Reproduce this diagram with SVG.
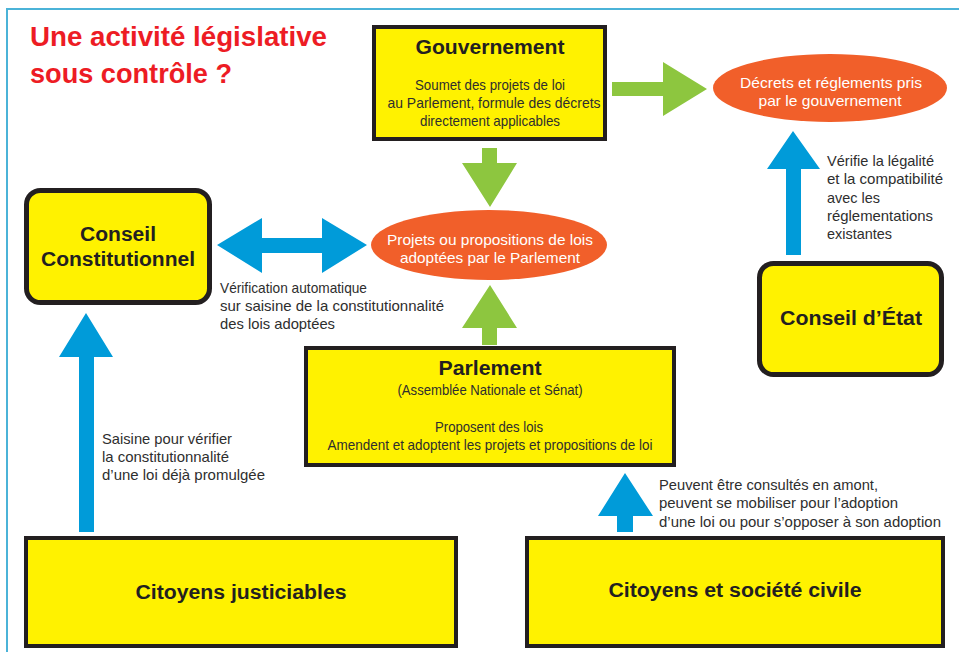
<svg xmlns="http://www.w3.org/2000/svg" width="959" height="652" viewBox="0 0 959 652">
  <style>
    .box { fill: #fff200; stroke: #231f20; stroke-width: 4; }
    .rbox { fill: #fff200; stroke: #231f20; stroke-width: 5; }
    .oval { fill: #f15f2a; }
    .green { fill: #8dc63f; }
    .blue { fill: #009bd9; }
    .title { font-family: "Liberation Sans", Arial, sans-serif; font-weight: bold; font-size: 28px; fill: #ed1c24; }
    .head { font-family: "Liberation Sans", Arial, sans-serif; font-weight: bold; font-size: 20px; fill: #231f20; text-anchor: middle; }
    .txt { font-family: "Liberation Sans", Arial, sans-serif; font-size: 15px; fill: #2e2e2e; }
    .mid { text-anchor: middle; }
    .wt { fill: #ffffff; }
  </style>

  <!-- outer frame -->
  <rect x="7" y="9" width="1000" height="700" fill="#ffffff" stroke="#4bb3d8" stroke-width="2"/>

  <!-- title -->
  <g id="title">
    <text class="title" x="30" y="46" textLength="297" lengthAdjust="spacingAndGlyphs">Une activité législative</text>
    <text class="title" x="30" y="83" textLength="202" lengthAdjust="spacingAndGlyphs">sous contrôle ?</text>
  </g>

  <!-- connectors -->
  <g id="connectors">
    <polygon class="green" points="612,82 663,82 663,62 707,89 663,116 663,96 612,96"/>
    <polygon class="green" points="482,148 497,148 497,163 517,163 490,207 462,163 482,163"/>
    <polygon class="green" points="490,285 517,328 497,328 497,345 482,345 482,328 462,328"/>
    <polygon class="blue" points="217,245 262,218 262,238 322,238 322,218 367,245 322,273 322,253 262,253 262,273"/>
    <polygon class="blue" points="86,313 113,357 94,357 94,532 79,532 79,357 59,357"/>
    <polygon class="blue" points="625,473 653,516 633,516 633,532 617,532 617,516 598,516"/>
    <polygon class="blue" points="793,131 820,169 801,169 801,255 786,255 786,169 767,169"/>

    <g class="txt">
      <text x="220" y="293" textLength="147" lengthAdjust="spacingAndGlyphs">Vérification automatique</text>
      <text x="220" y="311" textLength="224" lengthAdjust="spacingAndGlyphs">sur saisine de la constitutionnalité</text>
      <text x="220" y="329" textLength="115" lengthAdjust="spacingAndGlyphs">des lois adoptées</text>

      <text x="102" y="444" textLength="130" lengthAdjust="spacingAndGlyphs">Saisine pour vérifier</text>
      <text x="102" y="462" textLength="127" lengthAdjust="spacingAndGlyphs">la constitutionnalité</text>
      <text x="102" y="480" textLength="163" lengthAdjust="spacingAndGlyphs">d’une loi déjà promulgée</text>

      <text x="659" y="490" textLength="219" lengthAdjust="spacingAndGlyphs">Peuvent être consultés en amont,</text>
      <text x="659" y="508" textLength="239" lengthAdjust="spacingAndGlyphs">peuvent se mobiliser pour l’adoption</text>
      <text x="659" y="527" textLength="282" lengthAdjust="spacingAndGlyphs">d’une loi ou pour s’opposer à son adoption</text>

      <text x="827" y="166" textLength="107" lengthAdjust="spacingAndGlyphs">Vérifie la légalité</text>
      <text x="827" y="184" textLength="116" lengthAdjust="spacingAndGlyphs">et la compatibilité</text>
      <text x="827" y="203" textLength="53" lengthAdjust="spacingAndGlyphs">avec les</text>
      <text x="827" y="221" textLength="106" lengthAdjust="spacingAndGlyphs">réglementations</text>
      <text x="827" y="239" textLength="65" lengthAdjust="spacingAndGlyphs">existantes</text>
    </g>
  </g>

  <!-- Gouvernement -->
  <g id="gouvernement">
    <rect class="box" x="374" y="27" width="231" height="112"/>
    <text class="head" x="490" y="54" textLength="149" lengthAdjust="spacingAndGlyphs">Gouvernement</text>
    <text class="txt mid" x="490" y="90" textLength="150" lengthAdjust="spacingAndGlyphs">Soumet des projets de loi</text>
    <text class="txt mid" x="494" y="108" textLength="213" lengthAdjust="spacingAndGlyphs">au Parlement, formule des décrets</text>
    <text class="txt mid" x="490" y="126" textLength="140" lengthAdjust="spacingAndGlyphs">directement applicables</text>
  </g>

  <!-- Décrets et réglements -->
  <g id="decrets">
    <ellipse class="oval" cx="830" cy="88" rx="117" ry="34"/>
    <text class="txt mid wt" x="831" y="88" textLength="182" lengthAdjust="spacingAndGlyphs">Décrets et réglements pris</text>
    <text class="txt mid wt" x="830" y="106" textLength="143" lengthAdjust="spacingAndGlyphs">par le gouvernement</text>
  </g>

  <!-- Projets ou propositions -->
  <g id="projets">
    <ellipse class="oval" cx="489" cy="245" rx="118" ry="35"/>
    <text class="txt mid wt" x="490" y="245" textLength="206" lengthAdjust="spacingAndGlyphs">Projets ou propositions de lois</text>
    <text class="txt mid wt" x="490" y="263" textLength="180" lengthAdjust="spacingAndGlyphs">adoptées par le Parlement</text>
  </g>

  <!-- Conseil Constitutionnel -->
  <g id="conseil-constitutionnel">
    <rect class="rbox" x="26.5" y="190.5" width="183" height="112" rx="14"/>
    <text class="head" x="118" y="241" textLength="76" lengthAdjust="spacingAndGlyphs">Conseil</text>
    <text class="head" x="118" y="266" textLength="154" lengthAdjust="spacingAndGlyphs">Constitutionnel</text>
  </g>

  <!-- Conseil d'État -->
  <g id="conseil-etat">
    <rect class="rbox" x="759.5" y="263.5" width="182" height="111" rx="14"/>
    <text class="head" x="851" y="325" textLength="142" lengthAdjust="spacingAndGlyphs">Conseil d’État</text>
  </g>

  <!-- Parlement -->
  <g id="parlement">
    <rect class="box" x="306" y="348" width="368" height="117"/>
    <text class="head" x="490" y="375" textLength="103" lengthAdjust="spacingAndGlyphs">Parlement</text>
    <text class="txt mid" x="490" y="395" textLength="185" lengthAdjust="spacingAndGlyphs">(Assemblée Nationale et Sénat)</text>
    <text class="txt mid" x="489" y="432" textLength="108" lengthAdjust="spacingAndGlyphs">Proposent des lois</text>
    <text class="txt mid" x="490" y="450" textLength="325" lengthAdjust="spacingAndGlyphs">Amendent et adoptent les projets et propositions de loi</text>
  </g>

  <!-- Citoyens justiciables -->
  <g id="citoyens-justiciables">
    <rect class="box" x="26" y="538" width="430" height="108"/>
    <text class="head" x="241" y="599" textLength="211" lengthAdjust="spacingAndGlyphs">Citoyens justiciables</text>
  </g>

  <!-- Citoyens et société civile -->
  <g id="citoyens-societe">
    <rect class="box" x="527" y="538" width="416" height="108"/>
    <text class="head" x="735" y="597" textLength="253" lengthAdjust="spacingAndGlyphs">Citoyens et société civile</text>
  </g>
</svg>
